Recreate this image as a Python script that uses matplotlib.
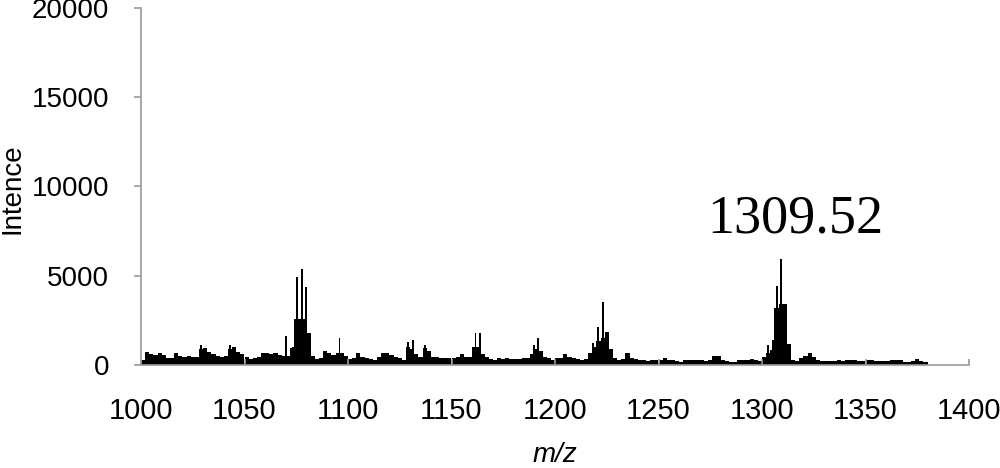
import numpy as np
import matplotlib
matplotlib.use("Agg")
import matplotlib.pyplot as plt

# Base envelope of the spectrum, m/z 1001..1379 in steps of 2
base_mz = np.arange(1001, 1380, 2)
base_int = [
    300, 750, 600, 560, 650, 580, 420, 380, 650, 500,
    460, 520, 450, 450, 900, 950, 750, 620, 500, 450,
    500, 900, 1000, 750, 600, 450, 330, 420, 450,
    650, 700, 600, 650, 550, 500, 500, 950, 2600, 2600,
    2600, 1800, 500, 330, 420, 800, 700, 550, 700, 700,
    480, 330, 400, 650, 470, 420, 330, 300, 450,
    650, 650, 550, 450, 400, 300, 1000, 900, 600, 450,
    950, 800, 450, 450, 400, 400, 420, 420, 430, 600,
    430, 430, 1000, 1000, 600, 430, 350, 300, 400,
    350, 400, 350, 320, 320, 420, 400, 600, 900, 800,
    450, 380, 300, 380, 380, 600, 470, 380, 320, 300,
    350, 650, 1000, 1330, 1500, 1870, 900, 380, 280,
    350, 650, 400, 350, 300, 280, 200, 280, 300, 300,
    420, 300, 280, 200, 170, 280, 280, 280, 280, 280,
    200, 280, 500, 480, 300, 250, 170, 170, 280,
    280, 300, 330, 280, 200, 450, 700, 850, 3200, 3400,
    3400, 1200, 280, 200, 370, 500, 700, 450, 280, 200,
    200, 200, 200, 280, 220, 280, 280, 280, 250,
    200, 300, 280, 200, 250, 200, 200, 300, 280, 280,
    180, 170, 200, 320, 200, 180,
]

# Narrow peaks on top of the envelope
peak_mz = [1028.8, 1043.2, 1070.2, 1073.2, 1075.3, 1077.7, 1079.8, 1095.9,
           1129.2, 1131.5, 1137.2, 1161.6, 1164.0, 1189.9, 1192.0, 1218.3,
           1220.8, 1223.3, 1303.1, 1305.4, 1307.3, 1309.3]
peak_int = [1130, 1150, 1640, 1000, 4910, 5390, 4390, 1530,
            1270, 1400, 1120, 1770, 1770, 1120, 1530, 1240,
            2150, 3510, 1120, 1400, 4420, 5920]

x_ticks = list(range(1000, 1401, 50))
y_ticks = list(range(0, 20001, 5000))
annotation = "1309.52"

fig = plt.figure(figsize=(10, 4.68), dpi=100)
ax = fig.add_axes([0.141, 0.220, 0.828, 0.763])

ax.bar(base_mz, base_int, width=2.0, color="black", linewidth=0, align="center")
ax.bar(peak_mz, peak_int, width=0.95, color="black", linewidth=0, align="center")

ax.set_xlim(1000, 1400)
ax.set_ylim(0, 20000)
ax.set_xticks(x_ticks)
ax.set_yticks(y_ticks)
ax.set_xticklabels([str(v) for v in x_ticks], fontsize=21, family="Liberation Sans")
ax.set_yticklabels([str(v) for v in y_ticks], fontsize=20, family="Liberation Sans")

for s in ["top", "right"]:
    ax.spines[s].set_visible(False)
for s in ["left", "bottom"]:
    ax.spines[s].set_color("#9a9a9a")
    ax.spines[s].set_linewidth(1.2)

ax.tick_params(axis="x", direction="in", length=4, color="#9a9a9a", pad=23, width=1.2)
ax.tick_params(axis="y", direction="out", length=5, color="#9a9a9a", pad=18, width=1.2)

ax.set_ylabel("Intence", fontsize=20, family="Liberation Sans", va="center", ha="center")
ax.yaxis.set_label_coords(-0.155, 0.495)
ax.set_xlabel("m/z", fontsize=20, family="Liberation Sans", style="italic", labelpad=12)

ax.text(1316, 7450, annotation, fontsize=39, family="Liberation Serif",
        ha="center", va="baseline")

fig.savefig("out.png", dpi=100)
